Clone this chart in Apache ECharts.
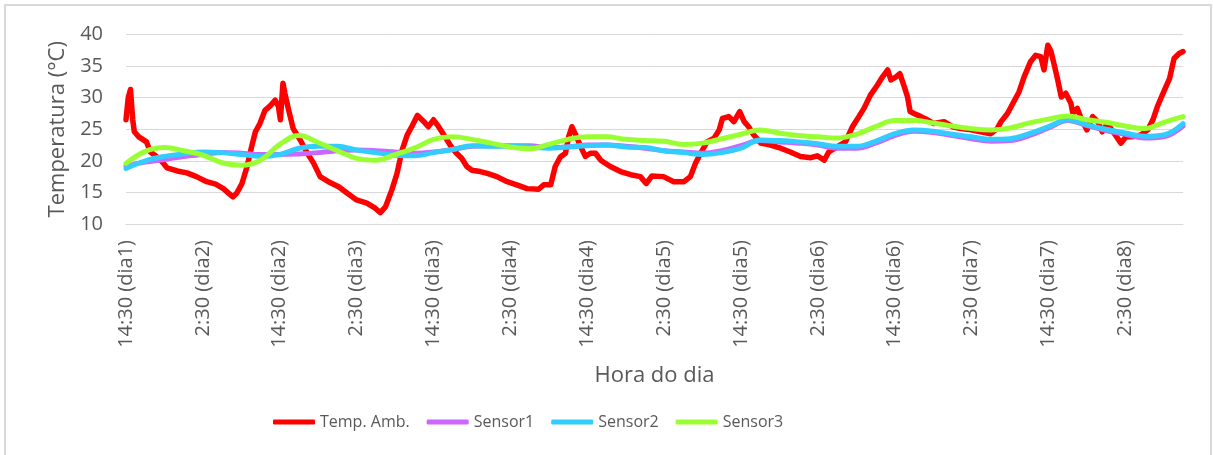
<!DOCTYPE html>
<html>
<head>
<meta charset="utf-8">
<script src="https://cdn.jsdelivr.net/npm/echarts@6/dist/echarts.min.js"></script>
<style>
html,body{margin:0;padding:0;background:#fff;}
#frame{position:absolute;left:4px;top:4px;width:1208px;height:480px;border:2px solid #d9d9d9;box-sizing:border-box;}
#chart{position:absolute;left:0;top:0;width:1213px;height:455px;}
</style>
</head>
<body>
<div id="frame"></div>
<div id="chart"></div>
<script>
// etiquetas do eixo x (a cada 12 horas)
var tickLabels = ['14:30 (dia1)','2:30 (dia2)','14:30 (dia2)','2:30 (dia3)','14:30 (dia3)','2:30 (dia4)','14:30 (dia4)',
	'2:30 (dia5)','14:30 (dia5)','2:30 (dia6)','14:30 (dia6)','2:30 (dia7)','14:30 (dia7)','2:30 (dia8)'];

// temperatura ambiente: [horas desde 14:30 dia1, °C]
var ambient = [[0,26.5],[0.35,30],[0.7,31.3],[1.05,26.5],[1.3,24.6],[2,23.8],[3.2,23],[3.8,21.4],[4.5,20.9],[5.6,19.9],
	[6.4,18.9],[8,18.4],[9.5,18.1],[11,17.5],[12.6,16.7],[14,16.3],[15.2,15.6],[16,14.9],[16.7,14.3],[17.3,14.9],
	[18.1,16.4],[18.9,19.1],[19.6,22.2],[20.2,24.6],[20.9,25.9],[21.7,28],[22.5,28.7],[23.3,29.6],[23.8,28.6],[24.1,26.5],
	[24.5,32.3],[24.8,30.7],[25.4,28],[26.1,25.1],[27.2,23.3],[28.2,21.4],[29.3,19.6],[30.3,17.5],[31.6,16.7],[33.2,15.9],
	[34.5,14.9],[36,13.8],[37.6,13.3],[38.9,12.5],[39.7,11.8],[40.5,12.7],[41.5,15.4],[42.3,18],[43.1,21.7],[43.9,24.1],
	[44.6,25.4],[45.5,27.2],[46.5,26.2],[47.2,25.4],[48,26.5],[48.8,25.4],[49.8,23.8],[50.6,22.5],[51.4,21.4],[52.4,20.4],
	[53.2,19.1],[54,18.5],[55.3,18.3],[56.4,18],[57.9,17.5],[59.5,16.7],[61,16.2],[62.6,15.6],[64.4,15.5],[65.2,16.2],
	[66.3,16.2],[67,19.1],[67.8,20.6],[68.6,21.2],[69.1,23.8],[69.6,25.4],[70.2,24.1],[71,22.2],[71.7,20.7],[72.5,21.2],
	[73.3,21.2],[74.1,20.1],[75.6,19.1],[77.2,18.3],[78.8,17.8],[80.3,17.5],[81.2,16.4],[82.1,17.6],[83.9,17.5],[85.5,16.7],
	[87.1,16.7],[88.1,17.5],[88.9,19.6],[89.7,21.2],[90.7,23],[91.8,23.6],[92.6,24.9],[93.1,26.7],[94.1,27],[94.9,26.2],
	[95.8,27.8],[96.5,26.2],[97.2,25.4],[98,24.1],[99.1,22.8],[100.6,22.5],[102.2,22],[103.7,21.4],[105.3,20.7],[106.9,20.5],
	[107.9,20.8],[109,20.1],[109.7,21.4],[111,22.2],[112.3,23],[113.4,25.4],[114.4,27],[115.2,28.3],[116.2,30.4],[117.3,32],
	[118.1,33.3],[118.9,34.4],[119.4,32.8],[120.2,33.3],[120.8,33.8],[121.5,31.7],[122,30.1],[122.4,27.8],[123,27.5],[124.1,27],
	[125.1,26.5],[126.1,25.9],[127.7,26.2],[129,25.4],[130.3,25.1],[131.9,24.9],[133.4,24.6],[135,24.3],[136,25.1],[136.6,26.2],
	[137.6,27.5],[138.6,29.4],[139.4,30.9],[140.2,33.3],[141.2,35.7],[142,36.7],[142.8,36.5],[143.3,34.4],[143.9,38.3],[144.4,37.3],
	[144.9,35.2],[145.4,33],[146,30.1],[146.7,30.7],[147.5,29.1],[147.8,27.5],[148.5,28.3],[149.3,26.2],[150,24.9],[150.9,27],
	[151.7,26.2],[152.4,24.6],[153.2,25.9],[154.3,24.3],[155.3,22.8],[156.1,23.8],[157.1,23.8],[158.4,24.1],[159.5,24.9],[160.3,26.5],
	[161,28.6],[162.1,31.2],[162.9,33],[163.6,36.2],[164.4,37],[165,37.3]];

// sensores: leituras a cada 3 horas
var sensorHours = [0,3,6,9,12,15,18,21,24,27,30,33,36,39,42,45,48,51,54,57,60,63,66,69,72,75,78,81,
	84,87,90,93,96,99,102,105,108,111,114,117,120,123,126,129,132,135,138,141,144,147,150,153,156,159,162,165];
var sensor1 = [19.2,19.8,20.2,20.7,21.0,21.3,21.2,21.0,21.0,21.1,21.3,21.6,21.7,21.6,21.4,21.2,21.4,21.8,22.3,22.4,
	22.4,22.4,22.1,22.2,22.5,22.5,22.3,22.0,21.6,21.4,21.2,21.6,22.4,23.2,23.0,22.8,22.5,22.0,22.0,22.8,
	24.0,24.7,24.5,24.0,23.5,23.1,23.2,24.0,25.2,26.4,25.6,24.8,24.2,23.6,23.8,25.5];
var sensor2 = [18.8,20.0,20.7,21.1,21.4,21.3,21.0,20.7,21.0,22.0,22.3,22.3,21.7,21.3,20.9,20.8,21.3,21.8,22.4,22.3,
	22.3,22.2,22.0,22.2,22.4,22.5,22.2,22.1,21.6,21.3,21.0,21.3,22.0,23.3,23.2,23.0,22.7,22.3,22.3,23.1,
	24.3,24.9,24.7,24.2,23.8,23.4,23.5,24.3,25.4,26.5,25.7,25.0,24.4,23.9,24.1,25.9];
var sensor3 = [19.6,21.5,22.1,21.6,20.9,19.7,19.3,20.1,22.6,24.0,22.9,21.6,20.4,20.1,21.0,22.0,23.4,23.8,23.4,22.8,
	22.2,21.9,22.6,23.4,23.8,23.8,23.4,23.2,23.1,22.6,22.8,23.5,24.2,24.9,24.4,24.0,23.8,23.6,24.2,25.4,
	26.4,26.4,26.0,25.5,25.1,24.9,25.2,26.0,26.6,27.1,26.5,26.1,25.5,25.1,26.1,27.0];

function pairs(xs, ys){
	var out = [];
	for(var i=0;i<xs.length;i++){
		out.push([xs[i], ys[i]]);
	}
	return out;
}

var FONT = '"Open Sans", "Noto Sans", sans-serif';
var TXT = '#595959';

var chart = echarts.init(document.getElementById('chart'), null, {renderer: 'canvas'});

function lineSeries(name, color, data, width, smooth){
	return {
		name: name,
		type: 'line',
		data: data,
		symbol: 'none',
		smooth: smooth,
		lineStyle: {color: color, width: width, cap: 'round', join: 'round'},
		itemStyle: {color: color},
		emphasis: {disabled: true}
	};
}

var option = {
	animation: false,
	grid: {left: 126, right: 30, top: 34.5, bottom: 231},
	legend: {
		left: 268,
		top: 409,
		icon: 'roundRect',
		itemWidth: 42,
		itemHeight: 5,
		itemGap: 17,
		textStyle: {color: TXT, fontSize: 16, fontFamily: FONT},
		data: ['Temp. Amb.', 'Sensor1', 'Sensor2', 'Sensor3']
	},
	xAxis: {
		type: 'value',
		min: 0,
		max: 165,
		interval: 12,
		name: 'Hora do dia',
		nameLocation: 'middle',
		nameGap: 141,
		nameTextStyle: {color: TXT, fontSize: 22, fontFamily: FONT},
		axisLine: {show: true, lineStyle: {color: '#d9d9d9', width: 1}},
		axisTick: {show: false},
		splitLine: {show: false},
		axisLabel: {
			rotate: 90,
			margin: 16,
			color: TXT,
			fontSize: 20,
			fontFamily: FONT,
			showMaxLabel: false,
			formatter: function(v){
				if(v % 12 !== 0) return '';
				return tickLabels[v/12] || '';
			}
		}
	},
	yAxis: {
		type: 'value',
		min: 10,
		max: 40,
		interval: 5,
		name: 'Temperatura (°C)',
		nameLocation: 'middle',
		nameGap: 57,
		nameRotate: 90,
		nameTextStyle: {color: TXT, fontSize: 22, fontFamily: FONT},
		axisLine: {show: false},
		axisTick: {show: false},
		axisLabel: {color: TXT, fontSize: 20, fontFamily: FONT, margin: 23},
		splitLine: {lineStyle: {color: '#d9d9d9', width: 1}}
	},
	series: [
		lineSeries('Temp. Amb.', '#ff0000', ambient, 5.5, false),
		lineSeries('Sensor1', '#cc66ff', pairs(sensorHours, sensor1), 5, 0.4),
		lineSeries('Sensor2', '#33ccff', pairs(sensorHours, sensor2), 5, 0.4),
		lineSeries('Sensor3', '#99ff33', pairs(sensorHours, sensor3), 5, 0.4)
	]
};

chart.setOption(option);
</script>
</body>
</html>
